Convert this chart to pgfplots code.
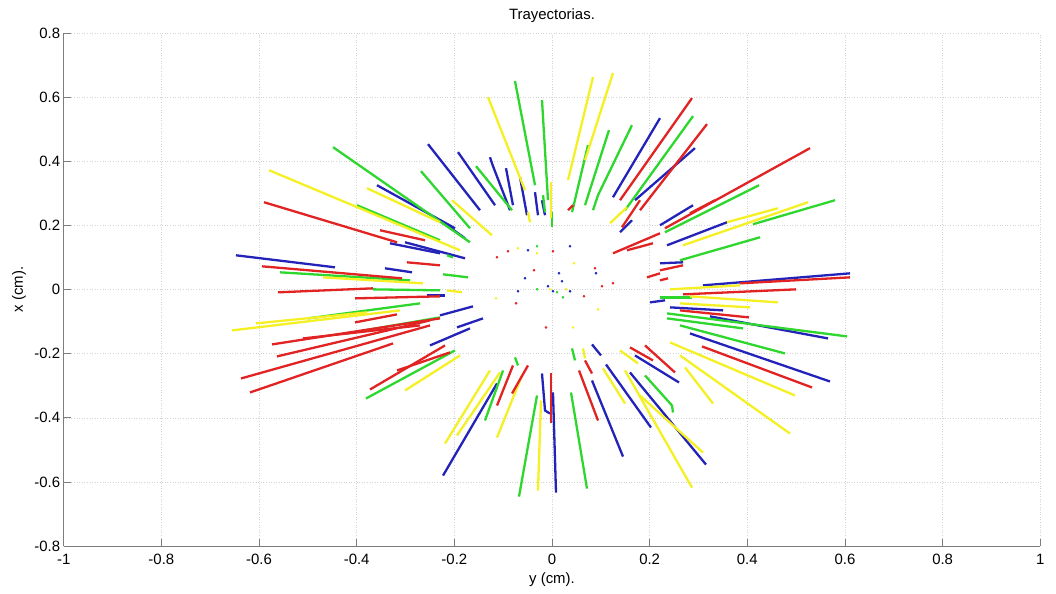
\documentclass[border=0pt]{standalone}
\usepackage{pgfplots}
\pgfplotsset{compat=1.18}
\usepackage{fontspec}
\setmainfont{Liberation Sans}
\definecolor{cR}{RGB}{225,35,35}
\definecolor{cG}{RGB}{45,215,45}
\definecolor{cB}{RGB}{35,35,185}
\definecolor{cY}{RGB}{245,240,35}
\definecolor{axgray}{RGB}{125,125,125}
\pgfplotsset{
  tr/.style={cR, line width=2.3bp},
  tg/.style={cG, line width=2.3bp},
  tb/.style={cB, line width=2.3bp},
  ty/.style={cY, line width=2.3bp},
}
\begin{document}
\begin{tikzpicture}[font=\fontsize{15}{18}\selectfont]
\path[use as bounding box] (-63.7bp,-48bp) rectangle (992.3bp,546bp);
\begin{axis}[
  at={(0,0)}, anchor=south west,
  scale only axis, width=976.6bp, height=512.7bp,
  xmin=-1, xmax=1, ymin=-0.8, ymax=0.8,
  xtick={-1,-0.8,-0.6,-0.4,-0.2,0,0.2,0.4,0.6,0.8,1},
  ytick={-0.8,-0.6,-0.4,-0.2,0,0.2,0.4,0.6,0.8},
  axis x line=bottom, axis y line=left,
  axis line style={axgray, line width=0.8bp, -},
  tick align=inside, major tick length=7bp,
  tick style={axgray, line width=0.8bp},
  grid=major, major grid style={gray!35, line width=0.6bp, dotted},
  /pgf/number format/assume math mode=true,
  xticklabel style={font=\fontsize{15}{18}\selectfont, anchor=north, yshift=-5bp},
  yticklabel style={font=\fontsize{15}{18}\selectfont},
  title={Trayectorias.},
  title style={at={(axis description cs:0.5,1.016)}, anchor=base, font=\fontsize{15}{18}\selectfont},
  xlabel={y (cm).},
  xlabel style={at={(axis description cs:0.5,-0.0722)}, anchor=base, font=\fontsize{15}{18}\selectfont},
  ylabel={x (cm).},
  ylabel style={at={(axis description cs:-0.0417,0.5)}, anchor=base, font=\fontsize{15}{18}\selectfont},
]
% ---- blue trajectories
\addplot[tb] coordinates {(-0.3584,0.3259) (-0.1987,0.1916)};
\addplot[tb] coordinates {(-0.2539,0.4541) (-0.1475,0.2478)};
\addplot[tb] coordinates {(-0.1925,0.4291) (-0.1167,0.2634)};
\addplot[tb] coordinates {(-0.1270,0.4134) (-0.1208,0.3853) (-0.0860,0.2478)};
\addplot[tb] coordinates {(-0.0942,0.3791) (-0.0799,0.2634)};
\addplot[tb] coordinates {(-0.0655,0.3509) (-0.0512,0.2322)};
\addplot[tb] coordinates {(-0.0348,0.3041) (-0.0287,0.2322)};
\addplot[tb] coordinates {(-0.3010,0.1478) (-0.1782,0.0978)};
\addplot[tb] coordinates {(-0.3318,0.1447) (-0.2294,0.1134)};
\addplot[tb] coordinates {(-0.3420,0.0666) (-0.2867,0.0541)};
\addplot[tb] coordinates {(-0.6472,0.1072) (-0.4444,0.0697)};
\addplot[tb] coordinates {(-0.2560,-0.0178) (-0.2191,-0.0178)};
\addplot[tb] coordinates {(-0.1618,-0.0522) (-0.2294,-0.0803)};
\addplot[tb] coordinates {(-0.1413,-0.0897) (-0.1946,-0.1178)};
\addplot[tb] coordinates {(-0.1680,-0.1209) (-0.2498,-0.1741)};
\addplot[tb] coordinates {(-0.2232,-0.5803) (-0.1126,-0.2928)};
\addplot[tb] coordinates {(-0.0205,-0.2616) (-0.0143,-0.3772) (-0.0041,-0.3866)};
\addplot[tb] coordinates {(0.0082,-0.6334) (0.0020,-0.3209)};
\addplot[tb] coordinates {(0.0819,-0.2834) (0.1454,-0.5209)};
\addplot[tb] coordinates {(0.0819,-0.1709) (0.1003,-0.2053)};
\addplot[tb] coordinates {(0.1106,-0.2334) (0.2027,-0.4303)};
\addplot[tb] coordinates {(0.1700,-0.2053) (0.2601,-0.2897)};
\addplot[tb] coordinates {(0.1597,-0.2584) (0.3154,-0.5459)};
\addplot[tb] coordinates {(0.2826,-0.1366) (0.5693,-0.2866)};
\addplot[tb] coordinates {(0.3236,-0.0834) (0.5652,-0.1522)};
\addplot[tb] coordinates {(0.2417,-0.0553) (0.3502,-0.0647)};
\addplot[tb] coordinates {(0.3092,0.0134) (0.6103,0.0509)};
\addplot[tb] coordinates {(0.2212,0.0822) (0.2683,0.0853)};
\addplot[tb] coordinates {(0.2355,0.1384) (0.3584,0.2103)};
\addplot[tb] coordinates {(0.2212,0.2009) (0.2888,0.2634)};
\addplot[tb] coordinates {(0.1700,0.2791) (0.2928,0.4416)};
\addplot[tb] coordinates {(0.1249,0.2884) (0.2212,0.5353)};
\addplot[tb] coordinates {(0.2007,-0.0397) (0.2314,-0.0334)};
\addplot[tb] coordinates {(0.1393,0.1791) (0.1638,0.2166)};
\addplot[tb] coordinates {(-0.0205,0.2791) (-0.0143,0.2322)};
\addplot[tb] coordinates {(-0.2294,0.2166) (-0.1782,0.1603)};
% ---- green trajectories
\addplot[tg] coordinates {(-0.4485,0.4447) (-0.1680,0.1478)};
\addplot[tg] coordinates {(-0.3994,0.2634) (-0.2294,0.1541)};
\addplot[tg] coordinates {(-0.2683,0.3697) (-0.1680,0.1916)};
\addplot[tg] coordinates {(-0.1556,0.3853) (-0.0819,0.2478)};
\addplot[tg] coordinates {(-0.0184,0.2947) (-0.0143,0.2416)};
\addplot[tg] coordinates {(-0.0758,0.6509) (-0.0348,0.3259)};
\addplot[tg] coordinates {(-0.0205,0.5916) (-0.0082,0.2791)};
\addplot[tg] coordinates {(-0.5570,0.0541) (-0.2908,0.0291)};
\addplot[tg] coordinates {(-0.3666,0.0009) (-0.2294,-0.0022)};
\addplot[tg] coordinates {(-0.4997,-0.0897) (-0.2703,-0.0428)};
\addplot[tg] coordinates {(-0.4198,-0.1366) (-0.2294,-0.0866)};
\addplot[tg] coordinates {(-0.3809,-0.3397) (-0.1987,-0.1897)};
\addplot[tg] coordinates {(-0.2232,0.0478) (-0.1720,0.0384)};
\addplot[tg] coordinates {(-0.1372,-0.4084) (-0.1003,-0.2522)};
\addplot[tg] coordinates {(-0.0758,-0.2116) (-0.0696,-0.2366)};
\addplot[tg] coordinates {(-0.0676,-0.6459) (-0.0307,-0.3303)};
\addplot[tg] coordinates {(0.0717,-0.6209) (0.0389,-0.3209)};
\addplot[tg] coordinates {(0.0410,-0.1834) (0.0471,-0.2209)};
\addplot[tg] coordinates {(0.1905,-0.2678) (0.2458,-0.3616) (0.2478,-0.3834)};
\addplot[tg] coordinates {(0.2621,-0.1116) (0.4772,-0.1991)};
\addplot[tg] coordinates {(0.2355,-0.0741) (0.6041,-0.1459)};
\addplot[tg] coordinates {(0.2355,-0.0897) (0.3912,-0.1209)};
\addplot[tg] coordinates {(0.2212,-0.0241) (0.2867,-0.0241)};
\addplot[tg] coordinates {(0.2621,0.0916) (0.4260,0.1634)};
\addplot[tg] coordinates {(0.4116,0.2041) (0.5796,0.2791)};
\addplot[tg] coordinates {(0.2314,0.1791) (0.4239,0.3259)};
\addplot[tg] coordinates {(0.1495,0.2478) (0.2888,0.5416)};
\addplot[tg] coordinates {(0.0840,0.2478) (0.0942,0.2947) (0.1638,0.5134)};
\addplot[tg] coordinates {(0.0676,0.2634) (0.1167,0.4978)};
\addplot[tg] coordinates {(0.0410,0.2416) (0.0737,0.4509)};
\addplot[tg] coordinates {(0.0000,0.2416) (0.0000,0.1947)};
\addplot[tg] coordinates {(-0.2150,0.1072) (-0.2027,0.1009)};
% ---- yellow trajectories
\addplot[ty] coordinates {(-0.5796,0.3728) (-0.1884,0.1228)};
\addplot[ty] coordinates {(-0.3789,0.3166) (-0.2294,0.2103)};
\addplot[ty] coordinates {(-0.1311,0.6009) (-0.0553,0.3103)};
\addplot[ty] coordinates {(-0.0020,0.3353) (-0.0020,0.2228)};
\addplot[ty] coordinates {(-0.4690,0.0384) (-0.2642,0.0197)};
\addplot[ty] coordinates {(-0.6554,-0.1272) (-0.3113,-0.0647)};
\addplot[ty] coordinates {(-0.6062,-0.1053) (-0.3789,-0.0709)};
\addplot[ty] coordinates {(-0.3010,-0.3147) (-0.1884,-0.2053)};
\addplot[ty] coordinates {(-0.2150,-0.0022) (-0.1843,-0.0084)};
\addplot[ty] coordinates {(-0.2191,-0.4803) (-0.1270,-0.2522)};
\addplot[ty] coordinates {(-0.1946,-0.4553) (-0.1065,-0.2584)};
\addplot[ty] coordinates {(-0.1126,-0.4616) (-0.0614,-0.2678)};
\addplot[ty] coordinates {(-0.0287,-0.6272) (-0.0225,-0.3459)};
\addplot[ty] coordinates {(0.0635,-0.1834) (0.0676,-0.2147)};
\addplot[ty] coordinates {(0.1044,-0.2459) (0.1495,-0.3553)};
\addplot[ty] coordinates {(0.1393,-0.1897) (0.1761,-0.2303)};
\addplot[ty] coordinates {(0.1495,-0.2522) (0.2867,-0.6178)};
\addplot[ty] coordinates {(0.1802,-0.3303) (0.3092,-0.5084)};
\addplot[ty] coordinates {(0.2417,-0.1647) (0.4976,-0.3303)};
\addplot[ty] coordinates {(0.2724,-0.2428) (0.3297,-0.3553)};
\addplot[ty] coordinates {(0.2621,-0.2053) (0.4874,-0.4491)};
\addplot[ty] coordinates {(0.2621,-0.0428) (0.4055,-0.0553)};
\addplot[ty] coordinates {(0.2826,-0.0209) (0.4628,-0.0397)};
\addplot[ty] coordinates {(0.2417,0.0009) (0.3850,0.0134)};
\addplot[ty] coordinates {(0.3584,0.2103) (0.4628,0.2541)};
\addplot[ty] coordinates {(0.2683,0.1384) (0.5243,0.2728)};
\addplot[ty] coordinates {(0.0676,0.4041) (0.1249,0.6759)};
\addplot[ty] coordinates {(0.0328,0.3416) (0.0840,0.6634)};
\addplot[ty] coordinates {(0.1188,0.2072) (0.1536,0.2572)};
\addplot[ty] coordinates {(-0.0492,0.2416) (-0.0451,0.2103)};
\addplot[ty] coordinates {(-0.2048,0.2791) (-0.1229,0.1697)};
% ---- red trajectories
\addplot[tr] coordinates {(-0.5898,0.2728) (-0.3174,0.1478)};
\addplot[tr] coordinates {(-0.3522,0.1853) (-0.2601,0.1541)};
\addplot[tr] coordinates {(-0.2970,0.0853) (-0.2294,0.0759)};
\addplot[tr] coordinates {(-0.5939,0.0728) (-0.3072,0.0353)};
\addplot[tr] coordinates {(-0.5611,-0.0084) (-0.3666,0.0041)};
\addplot[tr] coordinates {(-0.4034,-0.0272) (-0.2294,-0.0209)};
\addplot[tr] coordinates {(-0.4034,-0.1022) (-0.3174,-0.0772)};
\addplot[tr] coordinates {(-0.5099,-0.1522) (-0.2703,-0.1116)};
\addplot[tr] coordinates {(-0.5734,-0.1709) (-0.2294,-0.0897)};
\addplot[tr] coordinates {(-0.5632,-0.2084) (-0.2498,-0.0959)};
\addplot[tr] coordinates {(-0.6369,-0.2772) (-0.2498,-0.1116)};
\addplot[tr] coordinates {(-0.6185,-0.3209) (-0.3256,-0.1678)};
\addplot[tr] coordinates {(-0.3727,-0.3116) (-0.2191,-0.1741)};
\addplot[tr] coordinates {(-0.3174,-0.2522) (-0.2089,-0.1959)};
\addplot[tr] coordinates {(-0.1126,-0.3616) (-0.0799,-0.2366)};
\addplot[tr] coordinates {(-0.0819,-0.3241) (-0.0492,-0.2366)};
\addplot[tr] coordinates {(-0.0020,-0.2616) (-0.0020,-0.4147)};
\addplot[tr] coordinates {(0.0553,-0.2522) (0.0942,-0.4084)};
\addplot[tr] coordinates {(0.0676,-0.2209) (0.0819,-0.2616)};
\addplot[tr] coordinates {(0.1597,-0.1803) (0.2068,-0.2209)};
\addplot[tr] coordinates {(0.3072,-0.1772) (0.5325,-0.3053)};
\addplot[tr] coordinates {(0.1905,-0.1741) (0.2519,-0.2584)};
\addplot[tr] coordinates {(0.2621,-0.0647) (0.4034,-0.0866)};
\addplot[tr] coordinates {(0.2683,-0.0147) (0.4997,0.0009)};
\addplot[tr] coordinates {(0.3850,0.0197) (0.6103,0.0384)};
\addplot[tr] coordinates {(0.2212,0.0291) (0.2376,0.0353)};
\addplot[tr] coordinates {(0.2212,0.0603) (0.2683,0.0759)};
\addplot[tr] coordinates {(0.2314,0.1916) (0.5284,0.4416)};
\addplot[tr] coordinates {(0.2826,0.2384) (0.3338,0.2791)};
\addplot[tr] coordinates {(0.1393,0.2791) (0.2867,0.5978)};
\addplot[tr] coordinates {(0.1802,0.2478) (0.3174,0.5166)};
\addplot[tr] coordinates {(0.1249,0.1134) (0.2212,0.1759)};
\addplot[tr] coordinates {(0.1536,0.1228) (0.2068,0.1447)};
\addplot[tr] coordinates {(0.1945,0.0384) (0.2212,0.0509)};
\addplot[tr] coordinates {(0.1433,0.1947) (0.1802,0.2791)};
\addplot[tr] coordinates {(0.0328,0.2478) (0.0430,0.2634)};
% ---- central points
\addplot[only marks, mark=*, mark size=1.1bp, cR] coordinates {(-0.0901,0.1197) (0.0020,0.1197) (-0.1126,0.1009) (-0.0369,0.0603) (0.0881,0.0666) (0.1024,0.0103) (0.1249,0.0197) (0.0655,-0.0209) (-0.0737,-0.0428) (-0.0123,-0.1178)};
\addplot[only marks, mark=*, mark size=1.1bp, cB] coordinates {(-0.0492,0.1228) (0.0369,0.1353) (0.0143,0.0509) (-0.0553,0.0353) (0.0205,0.0259) (0.0901,0.0509) (-0.0696,-0.0053) (-0.0082,0.0103) (0.0020,-0.0053) (0.0369,-0.0053)};
\addplot[only marks, mark=*, mark size=1.1bp, cG] coordinates {(-0.0307,0.1353) (-0.0307,0.0009) (0.0102,-0.0084) (0.0225,-0.0241)};
\addplot[only marks, mark=*, mark size=1.1bp, cY] coordinates {(-0.0696,0.1291) (-0.0307,0.1134) (0.0450,0.0822) (-0.0041,0.0009) (0.0287,0.0009) (-0.1147,-0.0272) (0.0942,-0.0616) (0.0430,-0.1178)};
\end{axis}
\end{tikzpicture}
\end{document}
